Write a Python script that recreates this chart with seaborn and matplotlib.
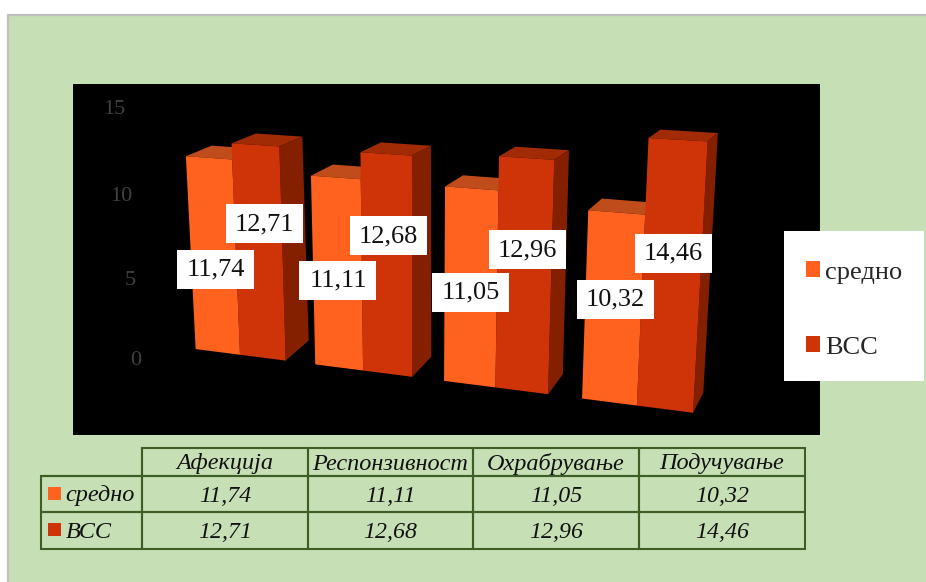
import matplotlib
matplotlib.use("Agg")
import matplotlib.pyplot as plt
import numpy as np
import pandas as pd
import seaborn as sns
from matplotlib.patches import Polygon, Rectangle
from matplotlib.transforms import Affine2D, IdentityTransform, Transform

# Chart values
categories = ["Афекција", "Респонзивност", "Охрабрување", "Подучување"]
series_names = ["средно", "ВСС"]
sredno = [11.74, 11.11, 11.05, 10.32]
vss = [12.71, 12.68, 12.96, 14.46]
axis_ticks = [0, 5, 10, 15]

W, H = 926, 582
GREEN = "#c6dfb5"
EDGE_GREEN = "#3d5f25"
FRONT = {"средно": "#ff611f", "ВСС": "#cf3409"}
SIDE = {"средно": "#8a2500", "ВСС": "#842000"}
TOP = {"средно": "#c04b1b", "ВСС": "#a12b05"}


def fmt(value):
    return f"{value:.2f}".replace(".", ",")


def project(x, v, depth=0.0):
    """Perspective view of the bar block: category x, value v, depth 0..1 -> pixels."""
    x, v = np.asarray(x, float), np.asarray(v, float)
    u = 240 + 118.5 * x + 4.6 * x ** 2
    px = u + (u - 420) * 0.0037 * v + depth * (23 - (u - 285) * 0.0313)
    py = 349 + (u - 195) * 0.128 - (16.4 + (u - 190) * 0.0047) * v + depth * (-20 + 0.8 * v)
    return px, H - py


class FrontPlane(Transform):
    input_dims = 2
    output_dims = 2
    is_separable = False
    has_inverse = False

    def transform_non_affine(self, values):
        values = np.asarray(values, float)
        px, py = project(values[:, 0], values[:, 1])
        return np.column_stack([px, py])


sns.set_theme(style="white")
plt.rcParams["font.family"] = ["Liberation Serif", "DejaVu Serif"]

fig = plt.figure(figsize=(W / 100, H / 100), dpi=100, facecolor="white")
fig.add_artist(Rectangle((8, -20), W + 40, H + 20 - 15, transform=IdentityTransform(),
                         facecolor=GREEN, edgecolor="#c0c0c0", linewidth=1.6, zorder=-10))

ax = fig.add_axes([73 / W, 1 - 435 / H, 747 / W, 351 / H], facecolor="black")

frame = pd.DataFrame({
    "категорија": categories * 2,
    "серија": np.repeat(series_names, len(categories)),
    "вредност": sredno + vss,
})
sns.barplot(data=frame, x="категорија", y="вредност", hue="серија", hue_order=series_names,
            palette=FRONT, saturation=1, width=0.76, gap=0, ax=ax, linewidth=0)

# Value-axis labels sit inside the black panel and lean with the block
ax.set_ylim((358 - 435) / 16.73, (358 - 84) / 16.73)
ax.set_xticks([])
ax.set_xlabel("")
ax.set_ylabel("")
ax.set_yticks(axis_ticks)
ax.tick_params(axis="y", length=0, pad=0, labelsize=16, labelcolor="#404040")
sns.despine(ax=ax, left=True, bottom=True)
label_shift = [(68, 0), (63, -4), (59, -3), (52, 0)]
for label, (dx, dy) in zip(ax.get_yticklabels(), label_shift):
    label.set_transform(label.get_transform() + Affine2D().translate(dx, dy))

# Where the value boxes sit on each bar: height on the bar and a sideways nudge
box_heights = {"средно": [5.0, 5.1, 5.2, 5.6], "ВСС": [8.0, 7.95, 7.86, 8.36]}
box_nudges = {"средно": [0, -1, -1.5, 1], "ВСС": [4.5, 0, 1, -0.5]}
plane = FrontPlane()
to_px = IdentityTransform()

for s, (name, container) in enumerate(zip(series_names, ax.containers)):
    for g, bar in enumerate(container):
        x0, x1 = bar.get_x(), bar.get_x() + bar.get_width()
        h = bar.get_height()
        base_z = 3 + g * 2 + s
        bar.set_transform(plane)
        bar.set_zorder(base_z)
        bar.set_edgecolor("none")
        bar.set_clip_on(False)

        top = [project(x0, h), project(x1, h), project(x1, h, 1), project(x0, h, 1)]
        side = [project(x1, 0), project(x1, h), project(x1, h, 1), project(x1, 0, 1)]
        ax.add_patch(Polygon(np.array(top, float), closed=True, transform=to_px,
                             facecolor=TOP[name], edgecolor="none", zorder=base_z - 0.5, clip_on=False))
        ax.add_patch(Polygon(np.array(side, float), closed=True, transform=to_px,
                             facecolor=SIDE[name], edgecolor="none", zorder=base_z - 0.5, clip_on=False))

        cx, cy = project((x0 + x1) / 2, box_heights[name][g])
        cx, cy = float(cx) + 1.5 + box_nudges[name][g], float(cy)
        ax.add_patch(Rectangle((cx - 38.5, cy - 19.5), 77, 39, transform=to_px,
                               facecolor="white", edgecolor="none", zorder=30, clip_on=False))
        ax.text(cx, cy - 0.5, fmt(h), transform=to_px, ha="center", va="center",
                fontsize=19, color="#111111", zorder=31, clip_on=False)

# Legend on a white card overlapping the panel edge
ax.add_patch(Rectangle((784, H - 381), 140, 150, transform=to_px, facecolor="white",
                       edgecolor="none", zorder=40, clip_on=False))
sns.move_legend(ax, "center left", bbox_to_anchor=(806 / W, 1 - 310 / H), bbox_transform=fig.transFigure,
                frameon=False, title=None, fontsize=19, handlelength=0.53, handleheight=0.53,
                handletextpad=0.2, labelspacing=2.0, borderpad=0, borderaxespad=0)
ax.get_legend().set_zorder(41)

# Data table below the panel
table_ax = fig.add_axes([41 / W, 1 - 549 / H, 764 / W, 101 / H])
table_ax.axis("off")
cells = [[""] + categories,
         [series_names[0]] + [fmt(v) for v in sredno],
         [series_names[1]] + [fmt(v) for v in vss]]
col_widths = np.array([101, 166, 165, 166, 166]) / 764
table = table_ax.table(cellText=cells, colWidths=col_widths, cellLoc="center", bbox=[0, 0, 1, 1])
table.auto_set_font_size(False)
row_heights = np.array([28, 36, 37]) / 101
for (r, c), cell in table.get_celld().items():
    cell.set_height(row_heights[r])
    cell.set_facecolor("none")
    cell.set_edgecolor(EDGE_GREEN)
    cell.set_linewidth(1.5)
    text = cell.get_text()
    text.set_fontsize(17.5 if r == 0 or c == 0 else 17.2)
    text.set_fontstyle("italic")
    text.set_color("#111111")
    text.set_transform(Affine2D().translate(0, -2))
    if c == 0:
        cell._loc = "left"
        cell.PAD = 0.245
        text.set_ha("left")
    if r == 0 and c == 0:
        cell.visible_edges = "BR"

for name, top_px in zip(series_names, [487, 523]):
    fig.add_artist(Rectangle((48, H - top_px - 13), 13, 13, transform=IdentityTransform(),
                             facecolor=FRONT[name], edgecolor="none", zorder=10))

fig.savefig("out.png", dpi=100, facecolor="white")
